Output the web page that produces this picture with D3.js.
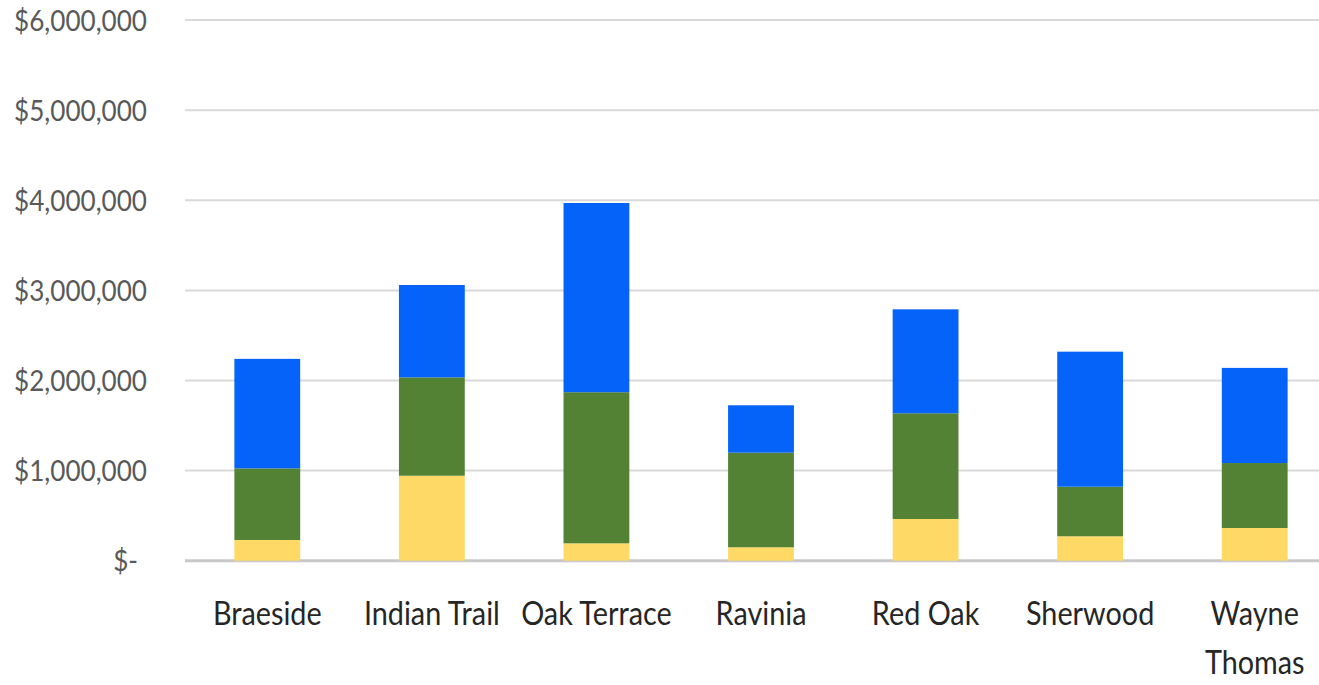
<!DOCTYPE html>
<html>
<head>
<meta charset="utf-8">
<script src="https://cdn.jsdelivr.net/npm/d3@7"></script>
<style>
  body { margin: 0; background: #fff; }
  svg { display: block; }
  .ytick text { font-family: Lato, "Open Sans", sans-serif; font-size: 29px; fill: #595959; }
  .xlab text { font-family: Lato, "Open Sans", sans-serif; font-size: 32px; fill: #262626; }
</style>
</head>
<body>
<div id="chart"></div>
<script>
// schools and the three stacked amounts (bottom -> top)
var schools = ["Braeside", "Indian Trail", "Oak Terrace", "Ravinia", "Red Oak", "Sherwood", "Wayne Thomas"];
var yellowVals = [230000, 943000, 193000, 149000, 463000, 271000, 363000];
var greenVals  = [795000, 1092000, 1677000, 1050000, 1173000, 550000, 721000];
var blueVals   = [1215000, 1025000, 2100000, 526000, 1154000, 1499000, 1056000];
var yTicks = [0, 1000000, 2000000, 3000000, 4000000, 5000000, 6000000];

var seriesKeys = ["yellow", "green", "blue"];
var colors = {yellow: "#FFD966", green: "#548235", blue: "#0563F9"};

var width = 1319, height = 685;
var squeeze = 0.9; // narrow the font to look like Calibri

var rows = schools.map(function(s, i) {
  return {school: s, yellow: yellowVals[i], green: greenVals[i], blue: blueVals[i]};
});

var svg = d3.select("#chart").append("svg")
  .attr("width", width)
  .attr("height", height);

var x = d3.scaleBand()
  .domain(schools)
  .range([185, 1337])
  .paddingInner(0.6)
  .paddingOuter(0.3);

var y = d3.scaleLinear()
  .domain([0, 6000000])
  .range([560.7, 20.1]);

var fmt = d3.format(",");

// gridlines + y labels
var yt = svg.append("g").attr("class", "ytick")
  .selectAll("g").data(yTicks).enter().append("g")
  .attr("transform", function(d) { return "translate(0," + y(d) + ")"; });

yt.append("line")
  .attr("x1", 185).attr("x2", width)
  .attr("stroke", function(d) { return d === 0 ? "#c8c8c8" : "#d9d9d9"; })
  .attr("stroke-width", function(d) { return d === 0 ? 3 : 2; });

yt.append("text")
  .attr("transform", function(d) { return "translate(" + (d === 0 ? 138 : 147) + ",0) scale(" + squeeze + ",1)"; })
  .attr("dy", "0.36em")
  .attr("text-anchor", "end")
  .text(function(d) { return d === 0 ? "$-" : "$" + fmt(d); });

var stacked = d3.stack().keys(seriesKeys)(rows);

svg.append("g").selectAll("g")
  .data(stacked).enter().append("g")
  .attr("fill", function(d) { return colors[d.key]; })
  .selectAll("rect")
  .data(function(d) { return d; }).enter().append("rect")
  .attr("x", function(d) { return x(d.data.school); })
  .attr("width", x.bandwidth())
  .attr("y", function(d) { return y(d[1]); })
  .attr("height", function(d) { return y(d[0]) - y(d[1]); });

// x labels (Wayne Thomas wraps)
var xl = svg.append("g").attr("class", "xlab")
  .selectAll("text").data(schools).enter().append("text")
  .attr("text-anchor", "middle")
  .attr("transform", function(d) {
    return "translate(" + (x(d) + x.bandwidth() / 2) + ",625) scale(" + squeeze + ",1)";
  });

xl.each(function(d) {
  var t = d3.select(this);
  var lines = d === "Wayne Thomas" ? ["Wayne", "Thomas"] : [d];
  lines.forEach(function(l, i) {
    t.append("tspan").attr("x", 0).attr("dy", i === 0 ? 0 : 49).text(l);
  });
});
</script>
</body>
</html>
